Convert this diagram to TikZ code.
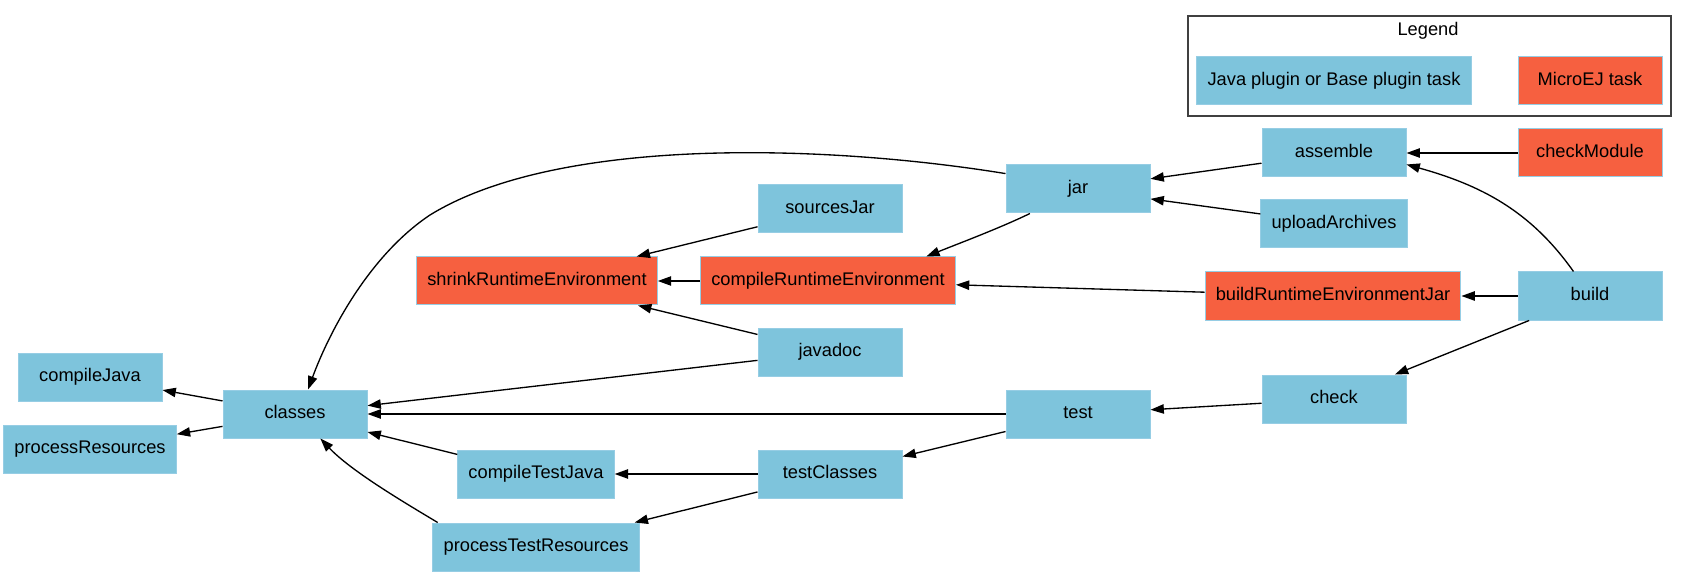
\documentclass[tikz,border=0pt]{standalone}
\usepackage{fontspec}
\setmainfont{Liberation Sans}
\usetikzlibrary{arrows.meta}
\definecolor{taskblue}{RGB}{126,196,220}
\definecolor{taskorange}{RGB}{246,96,64}
\definecolor{taskline}{RGB}{150,205,228}

\begin{document}
\begin{tikzpicture}[x=0.75pt,y=-0.75pt,
        java node/.style={rectangle,draw=taskline,fill=taskblue,line width=0.75pt,
            minimum width=108pt,minimum height=36pt,inner xsep=8pt,
            text height=9.5pt,text depth=3pt,font=\fontsize{13.7}{16}\selectfont},
        microej node/.style={java node,fill=taskorange},
        dep/.style={draw,line width=1pt,-{Triangle[length=10pt,width=7pt]}}]

        \useasboundingbox (0,0) rectangle (1688,577);

        % Legend
        \node[draw=black!75,line width=1pt,minimum width=362.25pt,minimum height=75pt] (legend) at (1429.5,66) {};
        \node[anchor=base,font=\fontsize{13.7}{16}\selectfont] (legendTitle) at (1428,36) {Legend};
        \node[java node,minimum width=204pt] (legJava) at (1334,81) {Java plugin or Base plugin task};
        \node[microej node] (legMicroej) at (1590,81) {MicroEJ task};

        % Define tasks
        \node[microej node] (checkModule) at (1590,153) {checkModule};
        \node[java node] (assemble) at (1334,153) {assemble};
        \node[java node] (jar) at (1078,189) {jar};
        \node[java node] (uploadArchives) at (1334,224) {uploadArchives};
        \node[java node] (sourcesJar) at (830,209) {sourcesJar};
        \node[microej node] (shrinkRE) at (537,281) {shrinkRuntimeEnvironment};
        \node[microej node] (compileRE) at (828,281) {compileRuntimeEnvironment};
        \node[microej node] (buildREJar) at (1333,296) {buildRuntimeEnvironmentJar};
        \node[java node] (build) at (1590,296) {build};
        \node[java node] (javadoc) at (830,352) {javadoc};
        \node[java node] (compileJava) at (90,377) {compileJava};
        \node[java node] (classes) at (295,414) {classes};
        \node[java node] (processResources) at (90,449) {processResources};
        \node[java node] (test) at (1078,414) {test};
        \node[java node] (check) at (1334,399) {check};
        \node[java node] (compileTestJava) at (536,474) {compileTestJava};
        \node[java node] (testClasses) at (830,474) {testClasses};
        \node[java node] (processTestResources) at (536,547) {processTestResources};

        % Draw dependencies
        \path[every edge/.style={dep}]
            (checkModule) edge (assemble)
            (assemble) edge (jar)
            (uploadArchives) edge (jar)
            (sourcesJar) edge (shrinkRE)
            (compileRE) edge (shrinkRE)
            (javadoc) edge (shrinkRE)
            (javadoc) edge (classes)
            (buildREJar) edge (compileRE)
            (build) edge (buildREJar)
            (build) edge (check)
            (check) edge (test)
            (test) edge (classes)
            (test) edge (testClasses)
            (testClasses) edge (compileTestJava)
            (testClasses) edge (processTestResources)
            (compileTestJava) edge (classes)
            (classes) edge (compileJava)
            (classes) edge (processResources);

        \draw[dep] (jar.168) .. controls (830,145) and (560,135) .. (430,215)
            .. controls (370,255) and (330,330) .. (classes.62);
        \draw[dep] (jar.-153) .. controls (1000,228) and (960,243) .. (compileRE.14);
        \draw[dep] (build.124) .. controls (1530,210) and (1480,185) .. (assemble.-9);
        \draw[dep] (processTestResources.166) .. controls (400,500) and (350,470) .. (classes.-44);

\end{tikzpicture}
\end{document}
